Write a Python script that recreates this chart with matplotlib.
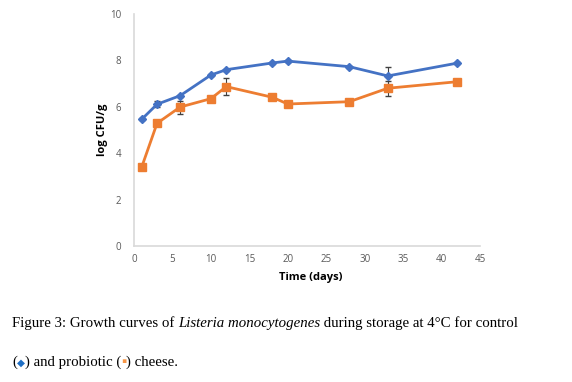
import matplotlib
matplotlib.use("Agg")
import matplotlib.pyplot as plt

days = [1, 3, 6, 10, 12, 18, 20, 28, 33, 42]
control = [5.46, 6.11, 6.48, 7.37, 7.60, 7.89, 7.97, 7.73, 7.33, 7.88]
control_err = [0.05, 0.12, 0.05, 0.05, 0.05, 0.06, 0.06, 0.05, 0.37, 0.05]
probiotic = [3.40, 5.29, 5.99, 6.35, 6.87, 6.41, 6.12, 6.22, 6.80, 7.08]
probiotic_err = [0.05, 0.05, 0.28, 0.05, 0.38, 0.05, 0.05, 0.12, 0.32, 0.05]
xticks = [0, 5, 10, 15, 20, 25, 30, 35, 40, 45]
yticks = [0, 2, 4, 6, 8, 10]

W, H = 572, 382
fig = plt.figure(figsize=(W / 100, H / 100), dpi=100)
ax = fig.add_axes([134 / W, 1 - 246 / H, (480 - 134) / W, (246 - 14) / H])

blue = "#4472C4"
orange = "#ED7D31"
ax.errorbar(days, control, yerr=control_err, color=blue, lw=2, marker="D", ms=4.5,
            ecolor="#404040", elinewidth=0.8, capsize=2, zorder=3)
ax.errorbar(days, probiotic, yerr=probiotic_err, color=orange, lw=2, marker="s", ms=6,
            ecolor="#404040", elinewidth=0.8, capsize=2, zorder=3)

ax.set_xlim(0, 45)
ax.set_ylim(0, 10)
ax.set_xticks(xticks)
ax.set_yticks(yticks)
for s in ["top", "right"]:
    ax.spines[s].set_visible(False)
for s in ["left", "bottom"]:
    ax.spines[s].set_color("#d9d9d9")
    ax.spines[s].set_linewidth(1.2)
ax.tick_params(length=0, labelsize=7, labelcolor="#595959")
ax.tick_params(axis="x", pad=6)
ax.tick_params(axis="y", pad=9)
for lab in ax.get_xticklabels() + ax.get_yticklabels():
    lab.set_family("Open Sans")
ax.set_xlabel("Time (days)", fontsize=8, fontweight="bold", family="Open Sans")
ax.set_ylabel("log CFU/g", fontsize=8, fontweight="bold", family="Open Sans")
ax.xaxis.set_label_coords(0.51, -0.11)
ax.yaxis.set_label_coords(-0.075, 0.5)

# caption
fig.canvas.draw()
renderer = fig.canvas.get_renderer()

def write_pieces(pieces, x0, y0):
    x = x0
    for txt, style, color, size in pieces:
        t = fig.text(x / W, 1 - y0 / H, txt, fontsize=size, style=style, color=color,
                     family=["Liberation Serif", "DejaVu Sans"], va="baseline", ha="left")
        bb = t.get_window_extent(renderer)
        x += bb.width

fs = 10.7
write_pieces([("Figure 3: Growth curves of ", "normal", "black", fs),
              ("Listeria monocytogenes", "italic", "black", fs),
              (" during storage at 4°C for control", "normal", "black", fs)], 12, 327)
write_pieces([("(", "normal", "black", fs),
              ("◆", "normal", "#1F6FC5", 7.5),
              (") and probiotic (", "normal", "black", fs),
              ("▪", "normal", "#F79646", fs),
              (") cheese.", "normal", "black", fs)], 12, 366)

fig.savefig("out.png", dpi=100)
